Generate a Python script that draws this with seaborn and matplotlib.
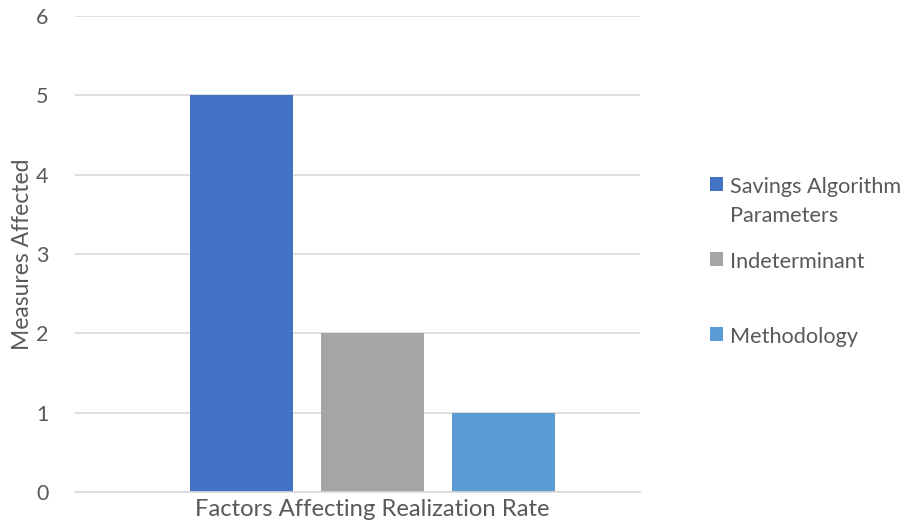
import matplotlib
matplotlib.use("Agg")
import matplotlib.pyplot as plt
import seaborn as sns
import pandas as pd

# Chart data
category = ["Factors Affecting Realization Rate"]
factors = ["Savings Algorithm\nParameters", "Indeterminant", "Methodology"]
measures = [5, 2, 1]
colors = ["#4472C4", "#A5A5A5", "#5B9BD5"]

df = pd.DataFrame({
    "group": category * len(factors),
    "factor": factors,
    "measures": measures,
})

sns.set_theme(style="white")
plt.rcParams["font.family"] = ["Lato", "DejaVu Sans"]
text_color = "#595959"
grid_color = "#D9D9D9"

fig = plt.figure(figsize=(9.06, 5.31), dpi=100)
ax = fig.add_axes([75 / 906, 39 / 531, 565 / 906, 476 / 531])

sns.barplot(data=df, x="group", y="measures", hue="factor",
            palette=colors, width=0.8, gap=0.214, ax=ax,
            saturation=1, linewidth=0, legend=True)

ax.set_xlim(-0.6056, 0.5446)
ax.set_ylim(0, 6)
ax.set_yticks(range(0, 7))
ax.yaxis.grid(True, color=grid_color, linewidth=1.2)
ax.set_axisbelow(True)
for side in ("top", "right", "left"):
    ax.spines[side].set_visible(False)
ax.spines["bottom"].set_color(grid_color)
ax.spines["bottom"].set_linewidth(1.2)

ax.tick_params(axis="y", length=0, pad=19, labelsize=15.5, labelcolor=text_color)
ax.tick_params(axis="x", length=0, pad=5, labelsize=17.2, labelcolor=text_color)
ax.set_xlabel("")
ax.set_ylabel("Measures Affected", fontsize=16.5, color=text_color, labelpad=2)

# Legend on the right, entries spaced evenly by their first line
handles, labels = ax.get_legend_handles_labels()
labels = [lab if "\n" in lab else lab + "\n" for lab in labels]
leg = ax.legend(handles, labels, loc="upper left",
                bbox_to_anchor=(710 / 906, 1 - 177 / 531),
                bbox_transform=fig.transFigure, frameon=False,
                fontsize=15.6, labelcolor=text_color,
                handlelength=0.62, handleheight=0.62, handletextpad=0.3,
                labelspacing=1.2, borderpad=0, borderaxespad=0)
for txt in leg.get_texts():
    txt.set_linespacing(1.55)
for column in leg._legend_handle_box.get_children():
    for item in column.get_children():
        item.align = "top"

fig.savefig("out.png", dpi=100)
